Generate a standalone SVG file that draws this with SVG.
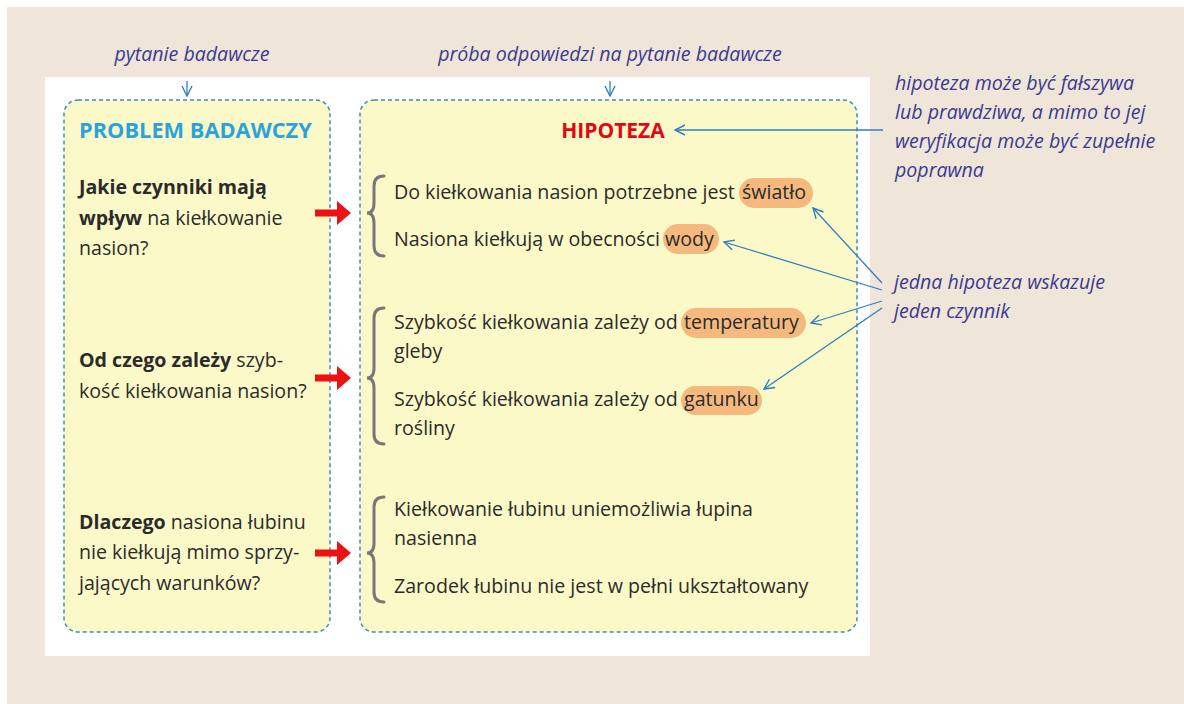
<svg xmlns="http://www.w3.org/2000/svg" width="1184" height="704" viewBox="0 0 1184 704">
<defs>
<style>
.t{font-family:"Open Sans","Noto Sans","Liberation Sans",sans-serif;font-size:19.6px;fill:#2b2b2b}
.b{font-weight:bold}
.note{font-family:"Open Sans","Noto Sans","Liberation Sans",sans-serif;font-size:19.6px;font-style:italic;fill:#3a3a92}
.box{fill:#fcf9c8;stroke:#3f8ac6;stroke-width:1.5;stroke-dasharray:4 3}
.hl{fill:#f5b97e}
.brace{fill:none;stroke:#777;stroke-width:3;stroke-linecap:round}
.ptr{fill:none;stroke:#2f7ec3;stroke-width:1.3}
.red{fill:#ee1111}
</style>
<marker id="ah" viewBox="0 0 12 12" refX="11" refY="6" markerWidth="12" markerHeight="12" markerUnits="userSpaceOnUse" orient="auto">
<polyline points="1,1 11,6 1,11" fill="none" stroke="#2f7ec3" stroke-width="1.4"/>
</marker>
</defs>
<rect x="0" y="0" width="1184" height="704" fill="#ffffff"/>
<rect x="7" y="7" width="1177" height="697" fill="#efe6d9"/>
<rect x="45" y="77" width="825" height="579" fill="#ffffff"/>

<g id="label-pytanie">
<text class="note" x="192" y="61" text-anchor="middle">pytanie badawcze</text>
</g>
<g id="label-proba">
<text class="note" x="610" y="61" text-anchor="middle">próba odpowiedzi na pytanie badawcze</text>
</g>

<g id="problem">
<rect class="box" x="64" y="100" width="266" height="532" rx="14"/>
<text class="t b" x="79" y="138" style="fill:#2aa3dc;font-size:21.8px">PROBLEM BADAWCZY</text>
<text class="t" x="79" y="194"><tspan class="b">Jakie czynniki mają</tspan></text>
<text class="t" x="79" y="225"><tspan class="b">wpływ</tspan> na kiełkowanie</text>
<text class="t" x="79" y="255">nasion?</text>
<text class="t" x="79" y="367"><tspan class="b">Od czego zależy</tspan> szyb-</text>
<text class="t" x="79" y="398">kość kiełkowania nasion?</text>
<text class="t" x="79" y="529"><tspan class="b">Dlaczego</tspan> nasiona łubinu</text>
<text class="t" x="79" y="559">nie kiełkują mimo sprzy-</text>
<text class="t" x="79" y="590">jających warunków?</text>
</g>

<g id="hipoteza">
<rect class="box" x="360" y="100" width="497" height="532" rx="14"/>
<text class="t b" x="613" y="138" text-anchor="middle" style="fill:#e30613;font-size:21px">HIPOTEZA</text>
<rect class="hl" x="739" y="178" width="74" height="30" rx="15"/>
<rect class="hl" x="663" y="224" width="56" height="30" rx="15"/>
<rect class="hl" x="681" y="308" width="125" height="30" rx="15"/>
<rect class="hl" x="681" y="386" width="81" height="29" rx="14.5"/>
<path class="brace" d="M384,176 Q374,176 374,186 L374,203 Q374,213 367,213 Q374,213 374,223 L374,246 Q374,256 384,256"/>
<path class="brace" d="M384,308 Q374,308 374,318 L374,368 Q374,378 367,378 Q374,378 374,388 L374,434 Q374,444 384,444"/>
<path class="brace" d="M384,497 Q374,497 374,507 L374,543 Q374,553 367,553 Q374,553 374,563 L374,592 Q374,602 384,602"/>
<text class="t" x="394" y="199">Do kiełkowania nasion potrzebne jest <tspan x="742">światło</tspan></text>
<text class="t" x="394" y="246">Nasiona kiełkują w obecności <tspan x="665">wody</tspan></text>
<text class="t" x="394" y="329">Szybkość kiełkowania zależy od <tspan x="684">temperatury</tspan></text>
<text class="t" x="394" y="358">gleby</text>
<text class="t" x="394" y="406">Szybkość kiełkowania zależy od <tspan x="684">gatunku</tspan></text>
<text class="t" x="394" y="435">rośliny</text>
<text class="t" x="394" y="516">Kiełkowanie łubinu uniemożliwia łupina</text>
<text class="t" x="394" y="545">nasienna</text>
<text class="t" x="394" y="593">Zarodek łubinu nie jest w pełni ukształtowany</text>
</g>

<g id="note-falsz">
<text class="note" x="895" y="90">hipoteza może być fałszywa</text>
<text class="note" x="895" y="119">lub prawdziwa, a mimo to jej</text>
<text class="note" x="895" y="148">weryfikacja może być zupełnie</text>
<text class="note" x="895" y="177">poprawna</text>
</g>
<g id="note-czynnik">
<text class="note" x="894" y="289">jedna hipoteza wskazuje</text>
<text class="note" x="894" y="318">jeden czynnik</text>
</g>

<g id="connectors">
<path class="ptr" d="M187,81 V96" marker-end="url(#ah)"/>
<path class="ptr" d="M610,81 V96" marker-end="url(#ah)"/>
<path class="ptr" d="M883,130 H675" marker-end="url(#ah)"/>
<path class="ptr" d="M882,283 L813,208" marker-end="url(#ah)"/>
<path class="ptr" d="M882,290 L724,242" marker-end="url(#ah)"/>
<path class="ptr" d="M882,301 L811,323" marker-end="url(#ah)"/>
<path class="ptr" d="M882,308 L764,389" marker-end="url(#ah)"/>
<path class="red" d="M315,209.5 H337 V201 L351,213 L337,225 V216.5 H315 Z"/>
<path class="red" d="M315,374.5 H337 V366 L351,378 L337,390 V381.5 H315 Z"/>
<path class="red" d="M315,549.5 H337 V541 L351,553 L337,565 V556.5 H315 Z"/>
</g>
</svg>
